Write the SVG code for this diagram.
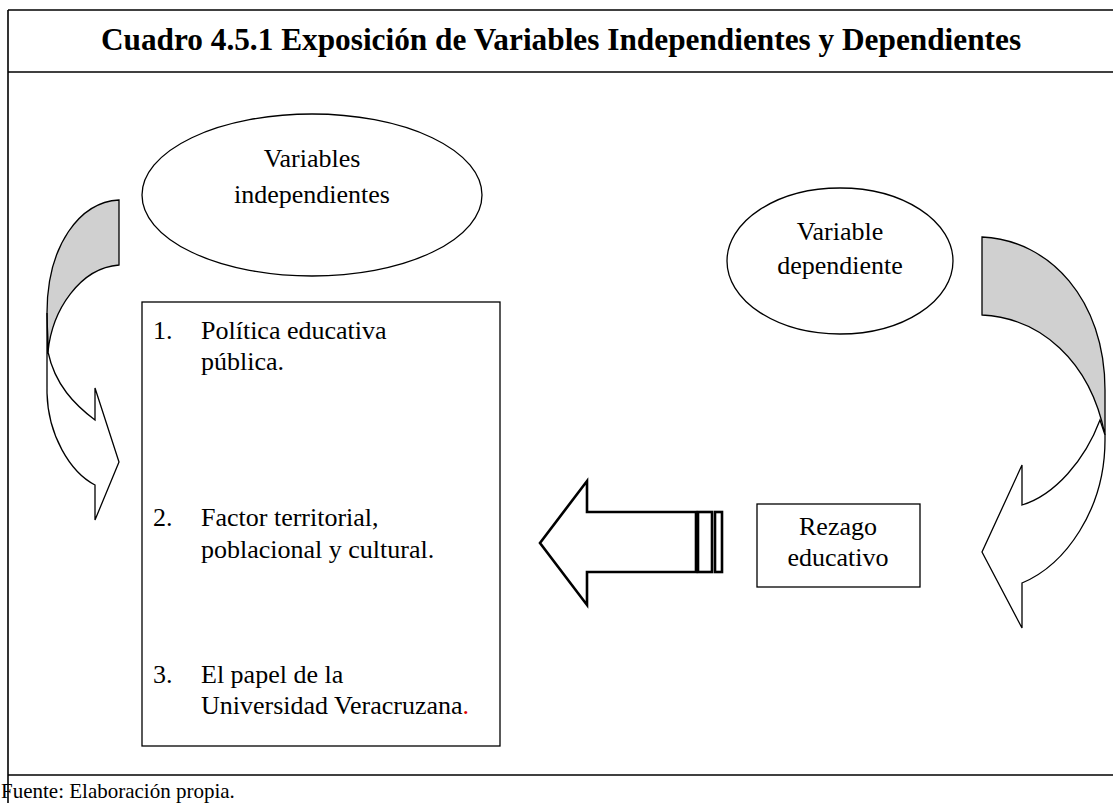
<svg xmlns="http://www.w3.org/2000/svg" width="1113" height="803" viewBox="0 0 1113 803">
<style>
.ln{stroke:#000;stroke-width:1.6;fill:none}
.sh{stroke:#000;stroke-width:1.3;fill:#fff}
.gr{stroke:#000;stroke-width:1.3;fill:#d0d0d0}
.t{font-family:"Liberation Serif","Times New Roman",serif;font-size:26px;fill:#000}
.f{font-family:"Liberation Serif","Times New Roman",serif;font-size:21px;fill:#000}
.c{text-anchor:middle}
.title{font-family:"Liberation Serif","Times New Roman",serif;font-size:31.3px;font-weight:bold;text-anchor:middle;fill:#000}
</style>
<rect width="1113" height="803" fill="#fff"/>
<g id="frame">
<line class="ln" x1="8" y1="10" x2="1113" y2="10"/>
<line class="ln" x1="8" y1="72" x2="1113" y2="72"/>
<line class="ln" x1="8" y1="775" x2="1113" y2="775"/>
<line class="ln" x1="8" y1="10" x2="8" y2="803"/>
<text class="title" x="561" y="50">Cuadro 4.5.1 Exposición de Variables Independientes y Dependientes</text>
<text class="f" x="1" y="798">Fuente: Elaboración propia.</text>
</g>
<g id="vars-indep">
<ellipse class="sh" cx="312" cy="195" rx="170" ry="81"/>
<text class="t c" x="312" y="167">Variables</text>
<text class="t c" x="312" y="203">independientes</text>
</g>
<g id="var-dep">
<ellipse class="sh" cx="840" cy="261" rx="113" ry="73"/>
<text class="t c" x="840" y="240">Variable</text>
<text class="t c" x="840" y="274">dependiente</text>
</g>
<g id="list">
<rect class="sh" x="142" y="302" width="358" height="444"/>
<text class="t" x="153" y="339">1.</text>
<text class="t" x="201" y="339">Política educativa</text>
<text class="t" x="201" y="370">pública.</text>
<text class="t" x="153" y="526">2.</text>
<text class="t" x="201" y="526">Factor territorial,</text>
<text class="t" x="201" y="558">poblacional y cultural.</text>
<text class="t" x="153" y="683">3.</text>
<text class="t" x="201" y="683">El papel de la</text>
<text class="t" x="201" y="714">Universidad Veracruzana<tspan fill="#e00000">.</tspan></text>
</g>
<g id="rezago">
<rect class="sh" x="757" y="504" width="163" height="83"/>
<text class="t c" x="838" y="535">Rezago</text>
<text class="t c" x="838" y="566">educativo</text>
</g>
<g id="connectors">
<g id="left-curved-arrow">
<path class="gr" d="M119,200 C80,202 47,245 47,313 L48,352 C52,310 80,268 119,265 Z"/>
<path class="sh" d="M48,352 L47,313 L47,393 C48,435 70,472 95,485 L95,520 L119,462 L95,388 L95,420 C75,405 55,385 48,352 Z"/>
</g>
<g id="right-curved-arrow">
<path class="gr" d="M982,237 C1050,240 1105,300 1105,390 L1105,435 C1090,360 1040,318 982,315 Z"/>
<path class="sh" d="M1105,435 L1105,440 C1105,510 1065,565 1022,583 L1022,628 L982,552 L1022,465 L1022,505 C1055,495 1085,460 1100,420 Z"/>
</g>
<g id="block-arrow" stroke="#000" stroke-width="2.6" fill="#fff">
<path d="M696,512 L587,512 L587,481 L540,543 L587,605 L587,572 L696,572 Z"/>
<rect x="698" y="512" width="14" height="60"/>
<rect x="715" y="512" width="7" height="60"/>
</g>
</g>
</svg>
